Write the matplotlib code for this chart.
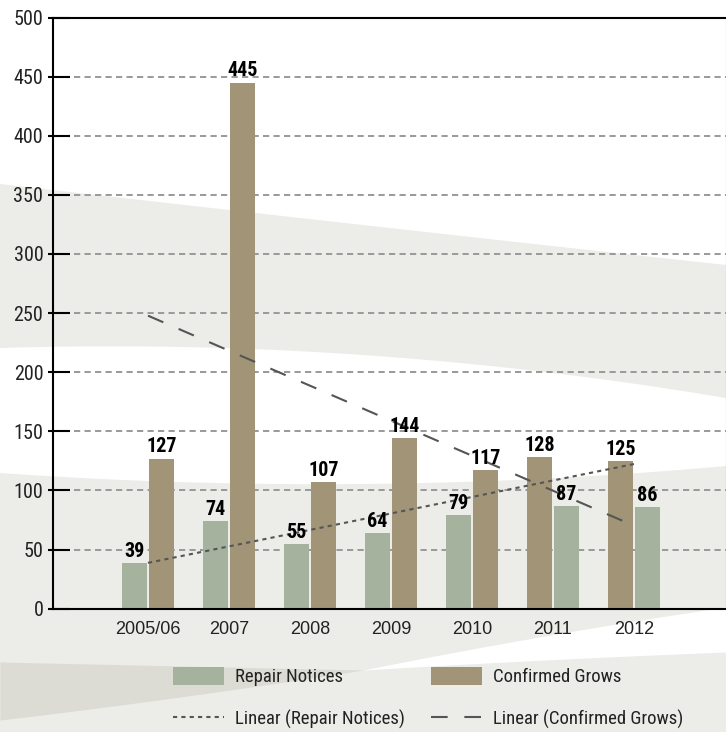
import numpy as np
import matplotlib
matplotlib.use("Agg")
import matplotlib.pyplot as plt
from matplotlib import font_manager as fm
from matplotlib.patches import Patch
from matplotlib.lines import Line2D

years = ["2005/06", "2007", "2008", "2009", "2010", "2011", "2012"]
repair_notices = [39, 74, 55, 64, 79, 87, 86]
confirmed_grows = [127, 445, 107, 144, 117, 128, 125]
# in the last two years the grows column sits first
grows_first = [False, False, False, False, False, True, True]
y_ticks = [0, 50, 100, 150, 200, 250, 300, 350, 400, 450, 500]

GREEN = "#a5b39e"
BROWN = "#a29577"
TREND = "#555555"


def narrow_font(bold=False):
    """Find an installed condensed face, else plain DejaVu Sans."""
    want = "bold" if bold else "regular"
    found = []
    for f in fm.fontManager.ttflist:
        name = f.name.lower()
        fname = f.fname.lower()
        is_narrow = ("narrow" in name or "condensed" in name or "condensed" in fname
                     or "narrow" in fname or str(f.stretch) in ("condensed", "semi-condensed"))
        if not is_narrow or "italic" in fname or "oblique" in fname or f.style != "normal":
            continue
        w = f.weight if isinstance(f.weight, int) else fm.weight_dict.get(f.weight, 400)
        if "extra" in fname or "semi" in fname or "light" in fname or "black" in fname or "thin" in fname or "medium" in fname:
            continue
        if (want == "bold") != (w >= 600):
            continue
        rank = 0 if "liberation" in fname else 1 if "roboto" in fname else 2 if "dejavu" in fname else 3
        found.append((rank, f.fname))
    if found:
        return fm.FontProperties(fname=sorted(found)[0][1])
    return fm.FontProperties(family="DejaVu Sans", weight="bold" if bold else "normal")


NARROW = narrow_font()
NARROW_BOLD = narrow_font(bold=True)

plt.rcParams["font.family"] = ["Liberation Sans", "DejaVu Sans"]

fig = plt.figure(figsize=(7.26, 7.32), dpi=100)
fig.patch.set_facecolor("white")

# background swooshes, drawn in pixel space
bg = fig.add_axes([0, 0, 1, 1], zorder=-5)
bg.set_xlim(0, 726)
bg.set_ylim(732, 0)
bg.axis("off")
xs = np.linspace(0, 726, 200)


def curve(pts, x):
    px, py = zip(*pts)
    return np.polyval(np.polyfit(px, py, 2), x)


LIGHT = "#ecece8"
DARK = "#dcdcd5"
bg.fill_between(xs, curve([(0, 184), (363, 225), (726, 265)], xs),
                curve([(0, 348), (363, 355), (726, 398)], xs), color=LIGHT, lw=0)
bg.fill_between(xs, curve([(0, 473), (363, 484), (726, 466)], xs), 732, color=LIGHT, lw=0)
xl = np.linspace(0, 363, 100)
bg.fill_between(xl, curve([(0, 662), (180, 666), (363, 670)], xl),
                curve([(0, 720), (180, 697), (363, 670)], xl), color=DARK, lw=0)
xr = np.linspace(363, 726, 100)
bg.fill_between(xr, curve([(363, 670), (545, 636), (726, 607)], xr),
                curve([(363, 670), (545, 660), (726, 652)], xr), color="white", lw=0)

ax = fig.add_axes([53 / 726, 1 - 608.7 / 732, (725.5 - 53) / 726, (608.7 - 17.5) / 732])
ax.set_facecolor("none")

x = np.arange(len(years))
left = np.where(grows_first, confirmed_grows, repair_notices)
right = np.where(grows_first, repair_notices, confirmed_grows)
left_col = [BROWN if g else GREEN for g in grows_first]
right_col = [GREEN if g else BROWN for g in grows_first]

w = 0.31
off = 0.167
b1 = ax.bar(x - off, left, w, color=left_col, zorder=2)
b2 = ax.bar(x + off, right, w, color=right_col, zorder=2)
val_font = NARROW_BOLD.copy()
val_font.set_size(14.5)
for bars, vals in ((b1, left), (b2, right)):
    for bar, v in zip(bars, vals):
        ax.annotate(str(v), (bar.get_x() + bar.get_width() / 2, v),
                    xytext=(0, 1.5), textcoords="offset points",
                    ha="center", va="bottom", fontproperties=val_font,
                    color="black", zorder=4)

# linear trends, fitted to each column series
fit_l = np.polyfit(x, left, 1)
fit_r = np.polyfit(x, right, 1)
ax.plot(x, np.polyval(fit_l, x), color=TREND, lw=1.5, ls=(0, (2, 2)), zorder=3)
ax.plot(x, np.polyval(fit_r, x), color=TREND, lw=1.5, ls=(0, (8, 8)), zorder=3)

ax.set_xlim(-1.173, 7.13)
ax.set_ylim(0, 500)
ax.set_xticks(x)
ax.set_xticklabels(years)
ax.tick_params(axis="x", length=0, pad=9, labelsize=13, labelcolor="#222222")
ax.set_yticks(y_ticks)
ax.set_yticks(y_ticks, minor=True)
ax.yaxis.remove_overlapping_locs = False
ax.tick_params(axis="y", which="major", direction="in", length=12.5, width=1.5,
               pad=7, labelcolor="#222222")
ax.tick_params(axis="y", which="minor", direction="out", length=3.6, width=1.5)
tick_font = NARROW.copy()
tick_font.set_size(14.5)
for lab in ax.get_yticklabels():
    lab.set_fontproperties(tick_font)

for v in y_ticks[1:-1]:
    ax.axhline(v, color="#999999", lw=1.4, ls=(0, (3.2, 2.2)), zorder=1)

for s in ("left", "bottom", "top"):
    ax.spines[s].set_linewidth(1.5)
    ax.spines[s].set_color("black")
ax.spines["right"].set_linewidth(0.8)
ax.spines["right"].set_color("#9a9a9a")

leg_font = NARROW.copy()
leg_font.set_size(13.5)
leg_kw = dict(loc="upper left", bbox_transform=fig.transFigure, frameon=False,
              borderpad=0, borderaxespad=0, handlelength=2.7, handleheight=1.08,
              handletextpad=0.6, labelspacing=1.25, prop=leg_font)
h_rn = Patch(facecolor=GREEN, edgecolor="none")
h_cg = Patch(facecolor=BROWN, edgecolor="none")
h_lrn = Line2D([], [], color=TREND, lw=1.5, ls=(0, (2, 2)))
h_lcg = Line2D([], [], color=TREND, lw=1.5, ls=(0, (8, 8)))
leg1 = ax.legend([h_rn, h_lrn], ["Repair Notices", "Linear (Repair Notices)"],
                 bbox_to_anchor=(173 / 726, 1 - 667 / 732), **leg_kw)
for t in leg1.get_texts():
    t.set_color("#222222")
ax.add_artist(leg1)
leg2 = ax.legend([h_cg, h_lcg], ["Confirmed Grows", "Linear (Confirmed Grows)"],
                 bbox_to_anchor=(431 / 726, 1 - 667 / 732), **leg_kw)
for t in leg2.get_texts():
    t.set_color("#222222")

fig.savefig("out.png", dpi=100)
